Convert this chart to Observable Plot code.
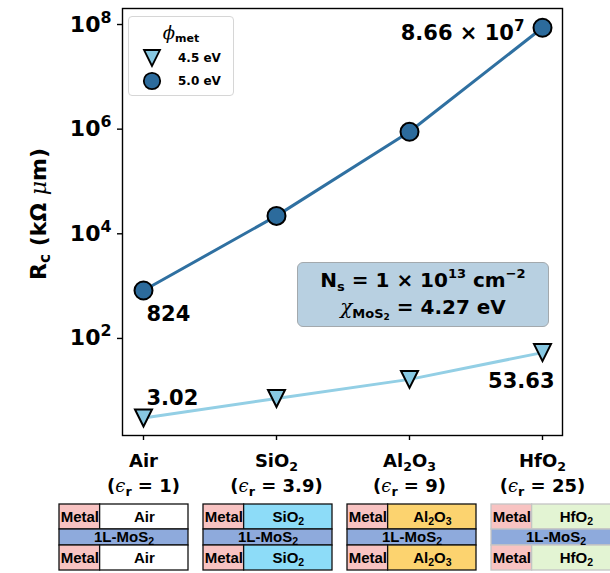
<!DOCTYPE html>
<html>
<head>
<meta charset="utf-8">
<script src="https://cdn.jsdelivr.net/npm/d3@7"></script>
<script src="https://cdn.jsdelivr.net/npm/@observablehq/plot@0.6"></script>
<style>
  body { margin: 0; background: #fff; }
  #fig { position: relative; width: 610px; height: 573px; overflow: hidden; font-family: "DejaVu Sans", sans-serif; }
  #fig svg { display: block; }
  .legend { position: absolute; left: 128px; top: 16px; width: 106px; height: 80px; box-sizing: border-box;
            border: 1px solid #d6d6d6; border-radius: 4px; background: rgba(255,255,255,0.9); font-weight: bold; }
  .legend .title { position: absolute; left: 0; right: 0; top: 5px; text-align: center; font-size: 18px; }
  .legend .title i { font-family: "DejaVu Serif", serif; font-weight: normal; }
  .legend .title sub { font-size: 11px; vertical-align: -3px; }
  .legend .entry { position: absolute; left: 13px; font-size: 12px; display: flex; align-items: center; height: 20px; }
  .legend .entry svg { margin-right: 16px; }
  .note { position: absolute; left: 297px; top: 262px; width: 252px; height: 65px; box-sizing: border-box;
          background: #b8d0e1; border: 1.5px solid #a3a9ad; border-radius: 6px; text-align: center;
          font-weight: bold; font-size: 20px; line-height: 27px; padding-top: 4px; color: #000; white-space: nowrap; }
  .note sub { font-size: 13px; vertical-align: -4px; line-height: 0; }
  .note sub sub { font-size: 9px; vertical-align: -2px; }
  .note sup { font-size: 13px; vertical-align: 9px; line-height: 0; }
  .note i { font-family: "DejaVu Serif", serif; font-weight: normal; }
</style>
</head>
<body>
<div id="fig"></div>
<script>
// Dielectric environments around the monolayer MoS2 channel
const categories = ["Air", "SiO2", "Al2O3", "HfO2"];
const tickNames = ["Air", "SiO_{2}", "Al_{2}O_{3}", "HfO_{2}"];
const epsilonR = ["1", "3.9", "9", "25"];

// Contact resistance R_c (kΩ·µm) for two metal work functions
const seriesNames = ["4.5 eV", "5.0 eV"];
const rc45 = [3.02, 7.1, 16.5, 53.63];
const rc50 = [824, 2.2e4, 8.9e5, 8.66e7];

// Log-axis ticks
const yTicks = [1e2, 1e4, 1e6, 1e8];

// Stack diagram colours
const metalColor = "#f8c3c2";
const mosColor = "#8eaadc";
const dielectricColors = ["#ffffff", "#8ddcf8", "#fcd36f", "#e3f4d3"];
const boxStrokes = ["#111", "#111", "#111", "#c4c4c4"];

const rows45 = categories.map((c, i) => ({cat: c, i, rc: rc45[i], series: seriesNames[0]}));
const rows50 = categories.map((c, i) => ({cat: c, i, rc: rc50[i], series: seriesNames[1]}));

const colors = {
  line45: "#93cfe5", fill45: "#87c8e2",
  line50: "#2f70a1", fill50: "#2c6b9c"
};

// Downward triangle, as tall as it is wide, centred on its bounding box
const triangleDown = {
  draw(context, size) {
    const r = Math.sqrt(size / Math.PI);
    context.moveTo(0, r);
    context.lineTo(-r, -r);
    context.lineTo(r, -r);
    context.closePath();
  }
};

function fmt(v) {
  if (v >= 1e6) {
    const e = Math.floor(Math.log10(v));
    return `${(v / 10 ** e).toFixed(2)} × 10^{${e}}`;
  }
  return Number.isInteger(v) ? String(v) : v.toFixed(2);
}

const fig = document.getElementById("fig");

const main = Plot.plot({
  width: 610,
  height: 500,
  marginTop: 8,
  marginBottom: 65,
  marginLeft: 122,
  marginRight: 48,
  style: {fontFamily: "DejaVu Sans, sans-serif", fontWeight: "bold", color: "black", background: "white", overflow: "visible"},
  x: {type: "point", domain: categories, padding: 0.15},
  y: {type: "log", domain: [10 ** 0.145, 10 ** 8.306]},
  marks: [
    Plot.axisX({
      tickSize: 5, tickPadding: 9, fontSize: 18, lineHeight: 1.38, label: null, strokeWidth: 1.4,
      tickFormat: (d) => { const i = categories.indexOf(d); return `${tickNames[i]}\n(*{ϵ}_{r} = ${epsilonR[i]})`; }
    }),
    Plot.axisY({
      ticks: yTicks, tickSize: 5, tickPadding: 6, fontSize: 22, label: null, strokeWidth: 1.4,
      tickFormat: (d) => `10^{${Math.round(Math.log10(d))}}`
    }),
    Plot.line(rows45, {x: "cat", y: "rc", stroke: colors.line45, strokeWidth: 3}),
    Plot.line(rows50, {x: "cat", y: "rc", stroke: colors.line50, strokeWidth: 3}),
    Plot.dot(rows45, {x: "cat", y: "rc", symbol: triangleDown, r: 8.5, fill: colors.fill45, stroke: "black", strokeWidth: 2}),
    Plot.dot(rows50, {x: "cat", y: "rc", r: 9, fill: colors.fill50, stroke: "black", strokeWidth: 2}),
    // value annotations
    Plot.text(rows45.filter(d => d.i === 0), {x: "cat", y: "rc", text: d => fmt(d.rc), textAnchor: "start", dx: 3, dy: -20, fontSize: 21}),
    Plot.text(rows45.filter(d => d.i === 3), {x: "cat", y: "rc", text: d => fmt(d.rc), textAnchor: "end", dx: 12, dy: 29, fontSize: 21}),
    Plot.text(rows50.filter(d => d.i === 0), {x: "cat", y: "rc", text: d => fmt(d.rc), textAnchor: "start", dx: 3, dy: 24, fontSize: 21}),
    Plot.text(rows50.filter(d => d.i === 3), {x: "cat", y: "rc", text: d => fmt(d.rc), textAnchor: "end", dx: -18, dy: 5, fontSize: 21}),
    Plot.text(["R_{c} (kΩ *{μ}m)"], {frameAnchor: "left", textAnchor: "middle", text: d => d, rotate: -90, dx: -84, dy: -8, fontSize: 22}),
    Plot.frame({stroke: "black", strokeWidth: 1.4})
  ]
});
fig.appendChild(main);

// Layer stack: top dielectric/metal, MoS2 channel, bottom dielectric/metal
const metalFrac = 0.315;
const layers = [
  {name: "top", y1: 0, y2: 25},
  {name: "channel", y1: 25, y2: 41},
  {name: "bottom", y1: 41, y2: 66}
];
const stackRows = categories.flatMap((c, i) => layers.flatMap(L =>
  L.name === "channel"
    ? [{mat: c, x1: 0, x2: 1, y1: L.y1, y2: L.y2, fill: mosColor, stroke: boxStrokes[i], text: "1L-MoS_{2}"}]
    : [
        {mat: c, x1: 0, x2: metalFrac, y1: L.y1, y2: L.y2, fill: metalColor, stroke: boxStrokes[i], text: "Metal"},
        {mat: c, x1: metalFrac, x2: 1, y1: L.y1, y2: L.y2, fill: dielectricColors[i], stroke: boxStrokes[i], text: tickNames[i]}
      ]
));

const stacks = Plot.plot({
  width: 610,
  height: 73,
  margin: 0,
  style: {fontFamily: "Liberation Sans, Arial, sans-serif", fontWeight: "bold", color: "black", background: "white"},
  fx: {domain: categories, range: [58, 622], paddingInner: 0.1016, paddingOuter: 0, axis: null},
  x: {domain: [0, 1], axis: null},
  y: {domain: [0, 66], range: [4, 70], axis: null},
  marks: [
    Plot.rect(stackRows, {fx: "mat", x1: "x1", x2: "x2", y1: "y1", y2: "y2", fill: "fill", stroke: "stroke", strokeWidth: 1.3}),
    Plot.text(stackRows, {fx: "mat", x: d => (d.x1 + d.x2) / 2, y: d => (d.y1 + d.y2) / 2, text: "text", fontSize: 15, fill: "black"})
  ]
});
fig.appendChild(stacks);

// Turn ^{..} / _{..} / *{..} markup into raised, lowered or italic tspans
function richify(root) {
  const NS = "http://www.w3.org/2000/svg";
  const leaves = [...root.querySelectorAll("text, tspan")]
    .filter(n => n.children.length === 0 && /[\^_*]\{/.test(n.textContent));
  for (const n of leaves) {
    const s = n.textContent;
    const fs = parseFloat(getComputedStyle(n).fontSize) || 16;
    n.textContent = "";
    const re = /([\^_*])\{([^}]*)\}/g;
    let last = 0, m;
    const add = (str, kind) => {
      const t = document.createElementNS(NS, "tspan");
      t.textContent = str;
      if (kind === "^") { t.setAttribute("font-size", fs * 0.72); t.setAttribute("baseline-shift", fs * 0.42); }
      if (kind === "_") { t.setAttribute("font-size", fs * 0.7); t.setAttribute("baseline-shift", -fs * 0.2); }
      if (kind === "*") { t.setAttribute("font-style", "italic"); t.setAttribute("font-weight", "normal"); t.setAttribute("font-family", "DejaVu Serif, serif"); }
      n.appendChild(t);
    };
    while ((m = re.exec(s))) {
      if (m.index > last) add(s.slice(last, m.index), null);
      add(m[2], m[1]);
      last = re.lastIndex;
    }
    if (last < s.length) add(s.slice(last), null);
  }
}
richify(main);
richify(stacks);

// Legend for the work-function series
const legend = document.createElement("div");
legend.className = "legend";
legend.innerHTML = `<div class="title"><i>ϕ</i><sub>met</sub></div>` +
  `<div class="entry" style="top:31px"><svg width="20" height="20" viewBox="-10 -10 20 20"><path d="M0,8L-8,-8L8,-8Z" fill="${colors.fill45}" stroke="black" stroke-width="1.8"/></svg>${seriesNames[0]}</div>` +
  `<div class="entry" style="top:54px"><svg width="20" height="20" viewBox="-10 -10 20 20"><circle r="8.2" fill="${colors.fill50}" stroke="black" stroke-width="1.8"/></svg>${seriesNames[1]}</div>`;
fig.appendChild(legend);

// Simulation conditions
const note = document.createElement("div");
note.className = "note";
note.innerHTML = `N<sub>s</sub> = 1 × 10<sup>13</sup> cm<sup>−2</sup><br><i>χ</i><sub>MoS<sub>2</sub></sub> = 4.27 eV`;
fig.appendChild(note);
</script>
</body>
</html>
